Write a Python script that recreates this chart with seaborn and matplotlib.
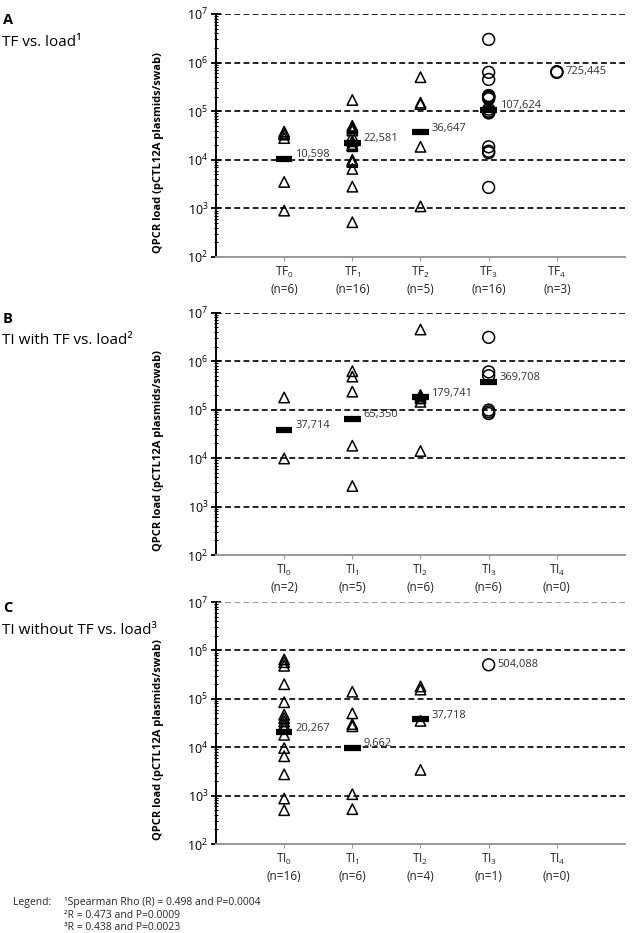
import matplotlib
matplotlib.use("Agg")
import matplotlib.pyplot as plt
import numpy as np
import pandas as pd
import seaborn as sns
from matplotlib.ticker import LogLocator, LogFormatterSciNotation, NullFormatter

# ---------------- data ----------------
# Panel A: TF vs. load
a_cats = ["TF0", "TF1", "TF2", "TF3", "TF4"]
a_prefix = "TF"
a_n = [6, 16, 5, 16, 3]
a_shape = ["tri", "tri", "tri", "circ", "circ"]
a_tf0 = [38000, 35000, 33000, 28000, 3500, 900]
a_tf1 = [170000, 50000, 47000, 44000, 40000, 31000, 24000, 21000, 20000, 19000,
         10000, 9500, 9000, 6500, 2800, 520]
a_tf2 = [500000, 150000, 140000, 18500, 1100]
a_tf3 = [3000000, 630000, 450000, 210000, 200000, 200000, 190000, 180000,
         110000, 100000, 95000, 92000, 18500, 15000, 14000, 2700]
a_tf4 = [650000, 640000, 630000]
a_medians = [10598, 22581, 36647, 107624, None]
a_labels = ["10,598", "22,581", "36,647", "107,624", "725,445"]

# Panel B: TI with TF vs. load
b_cats = ["TI0", "TI1", "TI2", "TI3", "TI4"]
b_prefix = "TI"
b_n = [2, 5, 6, 6, 0]
b_shape = ["tri", "tri", "tri", "circ", "circ"]
b_ti0 = [178000, 9800]
b_ti1 = [620000, 480000, 235000, 18000, 2650]
b_ti2 = [4500000, 200000, 185000, 170000, 145000, 14000]
b_ti3 = [3100000, 600000, 500000, 98000, 90000, 83000]
b_ti4 = []
b_medians = [37714, 65350, 179741, 369708, None]
b_labels = ["37,714", "65,350", "179,741", "369,708", None]

# Panel C: TI without TF vs. load
c_cats = ["TI0", "TI1", "TI2", "TI3", "TI4"]
c_prefix = "TI"
c_n = [16, 6, 4, 1, 0]
c_shape = ["tri", "tri", "tri", "circ", "circ"]
c_ti0 = [650000, 570000, 480000, 200000, 85000, 47000, 40000, 34000, 29000,
         24700, 18000, 9600, 6500, 2750, 870, 500]
c_ti1 = [140000, 50000, 30000, 27000, 1070, 525]
c_ti2 = [180000, 155000, 35000, 3400]
c_ti3 = [504088]
c_ti4 = []
c_medians = [20267, 9662, 37718, None, None]
c_labels = ["20,267", "9,662", "37,718", "504,088", None]

panel_titles = ["TF vs. load\u00b9", "TI with TF vs. load\u00b2", "TI without TF vs. load\u00b3"]
panel_letters = ["A", "B", "C"]
ylabel = "QPCR load (pCTL12A plasmids/swab)"
legend_lines = ["\u00b9Spearman Rho (R) = 0.498 and P=0.0004",
                "\u00b2R = 0.473 and P=0.0009",
                "\u00b3R = 0.438 and P=0.0023"]

panels = [
    (a_cats, a_prefix, a_n, a_shape, [a_tf0, a_tf1, a_tf2, a_tf3, a_tf4], a_medians, a_labels),
    (b_cats, b_prefix, b_n, b_shape, [b_ti0, b_ti1, b_ti2, b_ti3, b_ti4], b_medians, b_labels),
    (c_cats, c_prefix, c_n, c_shape, [c_ti0, c_ti1, c_ti2, c_ti3, c_ti4], c_medians, c_labels),
]

# ---------------- style ----------------
sns.set_theme(style="white")
plt.rcParams["font.family"] = ["Open Sans", "DejaVu Sans"]
plt.rcParams["mathtext.fontset"] = "custom"
plt.rcParams["mathtext.rm"] = "Open Sans"
plt.rcParams["mathtext.it"] = "Open Sans:italic"
plt.rcParams["mathtext.bf"] = "Open Sans:bold"
plt.rcParams["mathtext.default"] = "regular"

W, H = 635, 933
fig = plt.figure(figsize=(W / 100, H / 100), dpi=100)

ax_left = 216 / W
ax_w = (625 - 216) / W
ax_tops = [14, 312.7, 602]
ax_bots = [257, 555, 844]

for i, (cats, prefix, ns, shapes, vals, medians, labels) in enumerate(panels):
    top, bot = ax_tops[i], ax_bots[i]
    ax = fig.add_axes([ax_left, 1 - bot / H, ax_w, (bot - top) / H])

    rows = []
    for c, sh, v in zip(cats, shapes, vals):
        for x in v:
            rows.append({"cat": c, "val": x, "shape": sh})
    df = pd.DataFrame(rows, columns=["cat", "val", "shape"])

    tri = df[df["shape"] == "tri"]
    circ = df[df["shape"] == "circ"]
    if len(tri):
        sns.stripplot(data=tri, x="cat", y="val", order=cats, jitter=False,
                      marker="^", size=7.5, linewidth=1.1, edgecolor="black",
                      color="white", ax=ax, zorder=3)
    if len(circ):
        sns.stripplot(data=circ, x="cat", y="val", order=cats, jitter=False,
                      marker="o", size=8.5, linewidth=1.1, edgecolor="black",
                      color="white", ax=ax, zorder=3)
    for coll in ax.collections:
        coll.set_facecolor("none")
        coll.set_edgecolor("black")

    ax.set_yscale("log")
    ax.set_ylim(1e2, 1e7)
    ax.set_xlim(-1, 5)

    # gridlines
    for k in range(3, 8):
        col = "black"
        if i == 2 and k == 7:
            col = "#888888"
        ax.axhline(10 ** k, ls=(0, (3.5, 2)), color=col, lw=1.2, zorder=1)

    # medians
    for j, (m, lab) in enumerate(zip(medians, labels)):
        if m is not None:
            ax.hlines(m, j - 0.12, j + 0.12, color="black", lw=4.5, zorder=4)
            ax.annotate(lab, (j + 0.16, m), xytext=(0, 3), textcoords="offset points",
                        fontsize=8, va="center", ha="left", color="#333333")
        elif lab is not None:
            yv = vals[j][0]
            ax.annotate(lab, (j + 0.13, yv), xytext=(0, 0), textcoords="offset points",
                        fontsize=8, va="center", ha="left", color="#333333")

    # spines
    for s in ["top", "right"]:
        ax.spines[s].set_visible(False)
    ax.spines["left"].set_color("black")
    ax.spines["left"].set_linewidth(1.4)
    ax.spines["bottom"].set_color("#999999")
    ax.spines["bottom"].set_linestyle((0, (2, 1)))
    ax.spines["bottom"].set_linewidth(1.4)

    ax.yaxis.set_major_locator(LogLocator(base=10, numticks=10))
    ax.yaxis.set_minor_locator(LogLocator(base=10, subs=np.arange(2, 10), numticks=20))
    ax.yaxis.set_major_formatter(LogFormatterSciNotation())
    ax.yaxis.set_minor_formatter(NullFormatter())
    ax.tick_params(axis="y", which="major", direction="inout", length=7, width=1.3,
                   colors="black", labelsize=9, pad=2, left=True)
    ax.tick_params(axis="y", which="minor", direction="inout", length=3.5, width=0.8,
                   colors="black", left=True)

    ax.set_xticks(range(len(cats)))
    ax.set_xticklabels([f"{prefix}$_{{{j}}}$\n(n={n})" for j, n in enumerate(ns)],
                       fontsize=8.5, linespacing=1.3)
    ax.tick_params(axis="x", which="major", direction="out", length=3, width=0.8,
                   color="#999999", labelcolor="#222222", pad=3, bottom=True)
    ax.set_xlabel("")
    ax.set_ylabel(ylabel, fontsize=8, fontweight="bold", color="black")
    ax.yaxis.set_label_coords(-0.127, 0.43)
    ax.grid(False)

    fig.text(3 / W, 1 - (top + 6) / H, panel_letters[i], fontsize=10.5,
             fontweight="bold", va="center", ha="left", color="black")
    fig.text(2 / W, 1 - (top + 28) / H, panel_titles[i], fontsize=11,
             va="center", ha="left", color="black")

fig.text(13 / W, 1 - 902 / H, "Legend:", fontsize=7.5, va="center", ha="left")
for k, line in enumerate(legend_lines):
    fig.text(64 / W, 1 - (902 + 13 * k) / H, line, fontsize=7.5,
             va="center", ha="left")

fig.savefig("out.png", dpi=100)
